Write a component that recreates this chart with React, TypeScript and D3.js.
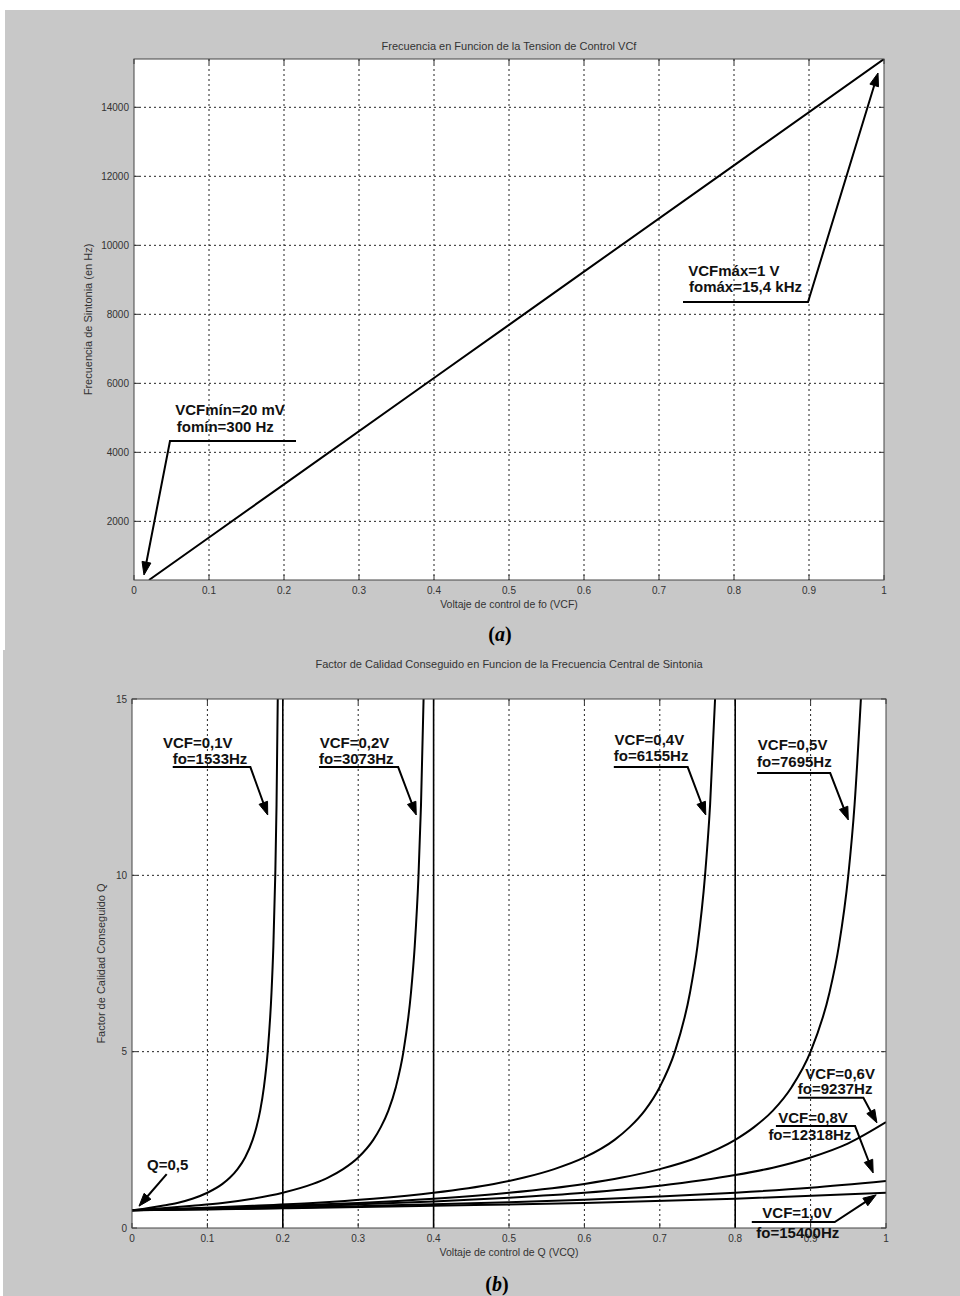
import React from 'react';
import * as d3 from 'd3';

// ---------- Chart (a) data ----------
const vcfA = [0.02, 0.1, 0.2, 0.4, 0.5, 0.6, 0.8, 1.0];
const foA = [300, 1533, 3073, 6155, 7695, 9237, 12318, 15400];
const xTicksA = [0, 0.1, 0.2, 0.3, 0.4, 0.5, 0.6, 0.7, 0.8, 0.9, 1];
const xTickLabelsA = ['0', '0.1', '0.2', '0.3', '0.4', '0.5', '0.6', '0.7', '0.8', '0.9', '1'];
const yTicksA = [2000, 4000, 6000, 8000, 10000, 12000, 14000];

// ---------- Chart (b) data ----------
const x01 = [0, 0.02, 0.04, 0.06, 0.08, 0.10, 0.12, 0.13, 0.14, 0.15, 0.16, 0.165, 0.17, 0.175, 0.18, 0.185, 0.1875, 0.19, 0.1917, 0.1933];
const q01 = [0.50, 0.56, 0.63, 0.71, 0.83, 1.00, 1.25, 1.43, 1.67, 2.00, 2.50, 2.86, 3.33, 4.00, 5.00, 6.67, 8.00, 10.0, 12.0, 15.0];
const x02 = [0, 0.04, 0.08, 0.12, 0.16, 0.20, 0.24, 0.26, 0.28, 0.30, 0.32, 0.33, 0.34, 0.35, 0.36, 0.37, 0.375, 0.38, 0.3833, 0.3867];
const q02 = [0.50, 0.56, 0.63, 0.71, 0.83, 1.00, 1.25, 1.43, 1.67, 2.00, 2.50, 2.86, 3.33, 4.00, 5.00, 6.67, 8.00, 10.0, 12.0, 15.0];
const x04 = [0, 0.08, 0.16, 0.24, 0.32, 0.40, 0.48, 0.52, 0.56, 0.60, 0.64, 0.66, 0.68, 0.70, 0.72, 0.74, 0.75, 0.76, 0.7667, 0.7733];
const q04 = [0.50, 0.56, 0.63, 0.71, 0.83, 1.00, 1.25, 1.43, 1.67, 2.00, 2.50, 2.86, 3.33, 4.00, 5.00, 6.67, 8.00, 10.0, 12.0, 15.0];
const x05 = [0, 0.1, 0.2, 0.3, 0.4, 0.5, 0.6, 0.65, 0.7, 0.75, 0.8, 0.825, 0.85, 0.875, 0.9, 0.925, 0.9375, 0.95, 0.9583, 0.9667];
const q05 = [0.50, 0.56, 0.63, 0.71, 0.83, 1.00, 1.25, 1.43, 1.67, 2.00, 2.50, 2.86, 3.33, 4.00, 5.00, 6.67, 8.00, 10.0, 12.0, 15.0];
const x06 = [0, 0.1, 0.2, 0.3, 0.4, 0.5, 0.6, 0.7, 0.8, 0.85, 0.9, 0.95, 1.0];
const q06 = [0.50, 0.55, 0.60, 0.67, 0.75, 0.86, 1.00, 1.20, 1.50, 1.71, 2.00, 2.40, 3.00];
const x08 = [0, 0.1, 0.2, 0.3, 0.4, 0.5, 0.6, 0.7, 0.8, 0.9, 1.0];
const q08 = [0.50, 0.53, 0.57, 0.62, 0.67, 0.73, 0.80, 0.89, 1.00, 1.14, 1.33];
const x10 = [0, 0.2, 0.4, 0.6, 0.8, 1.0];
const q10 = [0.50, 0.56, 0.63, 0.71, 0.83, 1.00];
const poleLines = [0.2, 0.4, 0.8];
const xTicksB = [0, 0.1, 0.2, 0.3, 0.4, 0.5, 0.6, 0.7, 0.8, 0.9, 1];
const xTickLabelsB = ['0', '0.1', '0.2', '0.3', '0.4', '0.5', '0.6', '0.7', '0.8', '0.9', '1'];
const yTicksB = [0, 5, 10, 15];

const seriesB = [
  { x: x01, q: q01 },
  { x: x02, q: q02 },
  { x: x04, q: q04 },
  { x: x05, q: q05 },
  { x: x06, q: q06 },
  { x: x08, q: q08 },
  { x: x10, q: q10 },
];

// ---------- annotations (in data units) ----------
type Ann = { texts: [string, number, number][]; path: [number, number][] };
const annA: Ann[] = [
  {
    texts: [['VCFmín=20 mV', 0.055, 5080], ['fomín=300 Hz', 0.057, 4590]],
    path: [[0.216, 4330], [0.048, 4330], [0.0133, 445]],
  },
  {
    texts: [['VCFmáx=1 V', 0.739, 9110], ['fomáx=15,4 kHz', 0.74, 8650]],
    path: [[0.732, 8357], [0.8987, 8357], [0.992, 14994]],
  },
];
const annB: Ann[] = [
  { texts: [['VCF=0,1V', 0.041, 13.61], ['fo=1533Hz', 0.054, 13.16]], path: [[0.054, 13.07], [0.157, 13.07], [0.18, 11.71]] },
  { texts: [['VCF=0,2V', 0.249, 13.61], ['fo=3073Hz', 0.248, 13.16]], path: [[0.248, 13.07], [0.353, 13.07], [0.377, 11.71]] },
  { texts: [['VCF=0,4V', 0.64, 13.69], ['fo=6155Hz', 0.639, 13.24]], path: [[0.639, 13.07], [0.737, 13.07], [0.761, 11.71]] },
  { texts: [['VCF=0,5V', 0.83, 13.55], ['fo=7695Hz', 0.829, 13.07]], path: [[0.829, 12.9], [0.926, 12.9], [0.95, 11.57]] },
  { texts: [['VCF=0,6V', 0.893, 4.22], ['fo=9237Hz', 0.883, 3.8]], path: [[0.883, 3.69], [0.97, 3.69], [0.988, 2.98]] },
  { texts: [['VCF=0,8V', 0.857, 2.98], ['fo=12318Hz', 0.844, 2.5]], path: [[0.854, 2.89], [0.959, 2.89], [0.983, 1.56]] },
  { texts: [['VCF=1,0V', 0.836, 0.28], ['fo=15400Hz', 0.828, -0.28]], path: [[0.822, 0.17], [0.932, 0.17], [0.987, 0.94]] },
  { texts: [['Q=0,5', 0.02, 1.64]], path: [[0.046, 1.53], [0.0093, 0.62]] },
];

const SANS = '"Liberation Sans", Arial, Helvetica, sans-serif';
const SERIF = '"Liberation Serif", "Times New Roman", serif';
const GRAY = '#c8c8c8';
const TXT = '#333';

function Arrow({ pts }: { pts: [number, number][] }) {
  const n = pts.length;
  const [px, py] = pts[n - 1];
  const [qx, qy] = pts[n - 2];
  const dx = px - qx, dy = py - qy;
  const L = Math.hypot(dx, dy);
  const ux = dx / L, uy = dy / L;
  const len = 13, hw = 4.5;
  const bx = px - ux * len, by = py - uy * len;
  const head = `M${px},${py}L${bx - uy * hw},${by + ux * hw}L${bx + uy * hw},${by - ux * hw}Z`;
  const linePts = pts.slice(0, n - 1).concat([[px - ux * len * 0.7, py - uy * len * 0.7]]);
  const d = d3.line()(linePts as [number, number][]) || '';
  return (
    <g>
      <path d={d} fill="none" stroke="#000" strokeWidth={2} />
      <path d={head} fill="#000" stroke="#000" strokeWidth={1} />
    </g>
  );
}

function Annotations({ anns, x, y }: { anns: Ann[]; x: (v: number) => number; y: (v: number) => number }) {
  return (
    <g>
      {anns.map((a, i) => (
        <g key={i}>
          {a.texts.map(([t, tx, ty], j) => (
            <text key={j} x={x(tx)} y={y(ty)} fontFamily={SANS} fontWeight="bold" fontSize={15} fill="#111">
              {t}
            </text>
          ))}
          <Arrow pts={a.path.map(([px, py]) => [x(px), y(py)] as [number, number])} />
        </g>
      ))}
    </g>
  );
}

function Frame({ L, R, T, B, xs, ys, xTicks, xLabels, yTicks, yFmt, gridX, gridY, id }: any) {
  const tl = 5;
  return (
    <g>
      <rect x={L} y={T} width={R - L} height={B - T} fill="#fff" />
      {gridX.map((v: number, i: number) => (
        <line key={'gx' + i} x1={xs(v)} x2={xs(v)} y1={T} y2={B} stroke="#222" strokeWidth={1} strokeDasharray="2,3" />
      ))}
      {gridY.map((v: number, i: number) => (
        <line key={'gy' + i} x1={L} x2={R} y1={ys(v)} y2={ys(v)} stroke="#222" strokeWidth={1} strokeDasharray="2,3" />
      ))}
      {xTicks.map((v: number, i: number) => (
        <g key={'xt' + i}>
          <line x1={xs(v)} x2={xs(v)} y1={B} y2={B - tl} stroke="#333" />
          <line x1={xs(v)} x2={xs(v)} y1={T} y2={T + tl} stroke="#333" />
          <text x={xs(v)} y={B + 14} textAnchor="middle" fontFamily={SANS} fontSize={10} fill={TXT}>
            {xLabels[i]}
          </text>
        </g>
      ))}
      {yTicks.map((v: number, i: number) => (
        <g key={'yt' + i}>
          <line x1={L} x2={L + tl} y1={ys(v)} y2={ys(v)} stroke="#333" />
          <line x1={R} x2={R - tl} y1={ys(v)} y2={ys(v)} stroke="#333" />
          <text x={L - 5} y={ys(v) + 3.5} textAnchor="end" fontFamily={SANS} fontSize={10} fill={TXT}>
            {yFmt(v)}
          </text>
        </g>
      ))}
      <clipPath id={id}>
        <rect x={L} y={T} width={R - L} height={B - T} />
      </clipPath>
    </g>
  );
}

function ChartA() {
  const L = 134, R = 884, T = 59, B = 580;
  const xs = d3.scaleLinear().domain([0, 1]).range([L, R]);
  const ys = d3.scaleLinear().domain([300, 15400]).range([B, T]);
  const pts = vcfA.map((v, i) => [xs(v), ys(foA[i])] as [number, number]);
  const d = d3.line()(pts) || '';
  return (
    <g>
      <text x={(L + R) / 2} y={T - 9} textAnchor="middle" fontFamily={SANS} fontSize={11} fill={TXT}>
        Frecuencia en Funcion de la Tension de Control VCf
      </text>
      <Frame L={L} R={R} T={T} B={B} xs={xs} ys={ys} xTicks={xTicksA} xLabels={xTickLabelsA} yTicks={yTicksA}
        yFmt={(v: number) => String(v)} gridX={xTicksA.slice(1, -1)} gridY={yTicksA} id="clipA" />
      <path d={d} fill="none" stroke="#000" strokeWidth={2} clipPath="url(#clipA)" />
      <rect x={L} y={T} width={R - L} height={B - T} fill="none" stroke="#444" strokeWidth={1} />
      <Annotations anns={annA} x={xs} y={ys} />
      <text x={(L + R) / 2} y={B + 28} textAnchor="middle" fontFamily={SANS} fontSize={10.5} fill={TXT}>
        Voltaje de control de fo (VCF)
      </text>
      <text transform={`translate(${L - 42},${(T + B) / 2}) rotate(-90)`} textAnchor="middle" fontFamily={SANS} fontSize={11} fill={TXT}>
        Frecuencia de Sintonia (en Hz)
      </text>
    </g>
  );
}

function ChartB() {
  const L = 132, R = 886, T = 699, B = 1228;
  const xs = d3.scaleLinear().domain([0, 1]).range([L, R]);
  const ys = d3.scaleLinear().domain([0, 15]).range([B, T]);
  const line = d3.line<[number, number]>().x(p => xs(p[0])).y(p => ys(p[1])).curve(d3.curveMonotoneX);
  return (
    <g>
      <text x={(L + R) / 2} y={T - 31} textAnchor="middle" fontFamily={SANS} fontSize={11} fill={TXT}>
        Factor de Calidad Conseguido en Funcion de la Frecuencia Central de Sintonia
      </text>
      <Frame L={L} R={R} T={T} B={B} xs={xs} ys={ys} xTicks={xTicksB} xLabels={xTickLabelsB} yTicks={yTicksB}
        yFmt={(v: number) => String(v)} gridX={xTicksB.slice(1, -1)} gridY={[5, 10]} id="clipB" />
      <g clipPath="url(#clipB)">
        {poleLines.map((v, i) => (
          <line key={i} x1={xs(v)} x2={xs(v)} y1={ys(0)} y2={ys(15)} stroke="#000" strokeWidth={1.6} />
        ))}
        {seriesB.map((s, i) => (
          <path key={i} d={line(s.x.map((v, j) => [v, s.q[j]] as [number, number])) || ''} fill="none" stroke="#000" strokeWidth={2} />
        ))}
      </g>
      <rect x={L} y={T} width={R - L} height={B - T} fill="none" stroke="#444" strokeWidth={1} />
      <Annotations anns={annB} x={xs} y={ys} />
      <text x={(L + R) / 2} y={B + 28} textAnchor="middle" fontFamily={SANS} fontSize={10.5} fill={TXT}>
        Voltaje de control de Q (VCQ)
      </text>
      <text transform={`translate(${L - 27},${(T + B) / 2}) rotate(-90)`} textAnchor="middle" fontFamily={SANS} fontSize={11} fill={TXT}>
        Factor de Calidad Conseguido Q
      </text>
    </g>
  );
}

export default function App() {
  return (
    <svg width={960} height={1296} viewBox="0 0 960 1296" style={{ position: 'absolute', left: 0, top: 0, display: 'block' }}>
      <rect x={0} y={0} width={960} height={1296} fill="#fff" />
      <rect x={5} y={10} width={955} height={640} fill={GRAY} />
      <rect x={3} y={650} width={957} height={646} fill={GRAY} />
      <ChartA />
      <text x={500} y={641} textAnchor="middle" fontFamily={SERIF} fontWeight="bold" fontSize={20} fill="#000">
        (<tspan fontStyle="italic">a</tspan>)
      </text>
      <ChartB />
      <text x={497} y={1291} textAnchor="middle" fontFamily={SERIF} fontWeight="bold" fontSize={20} fill="#000">
        (<tspan fontStyle="italic">b</tspan>)
      </text>
    </svg>
  );
}
